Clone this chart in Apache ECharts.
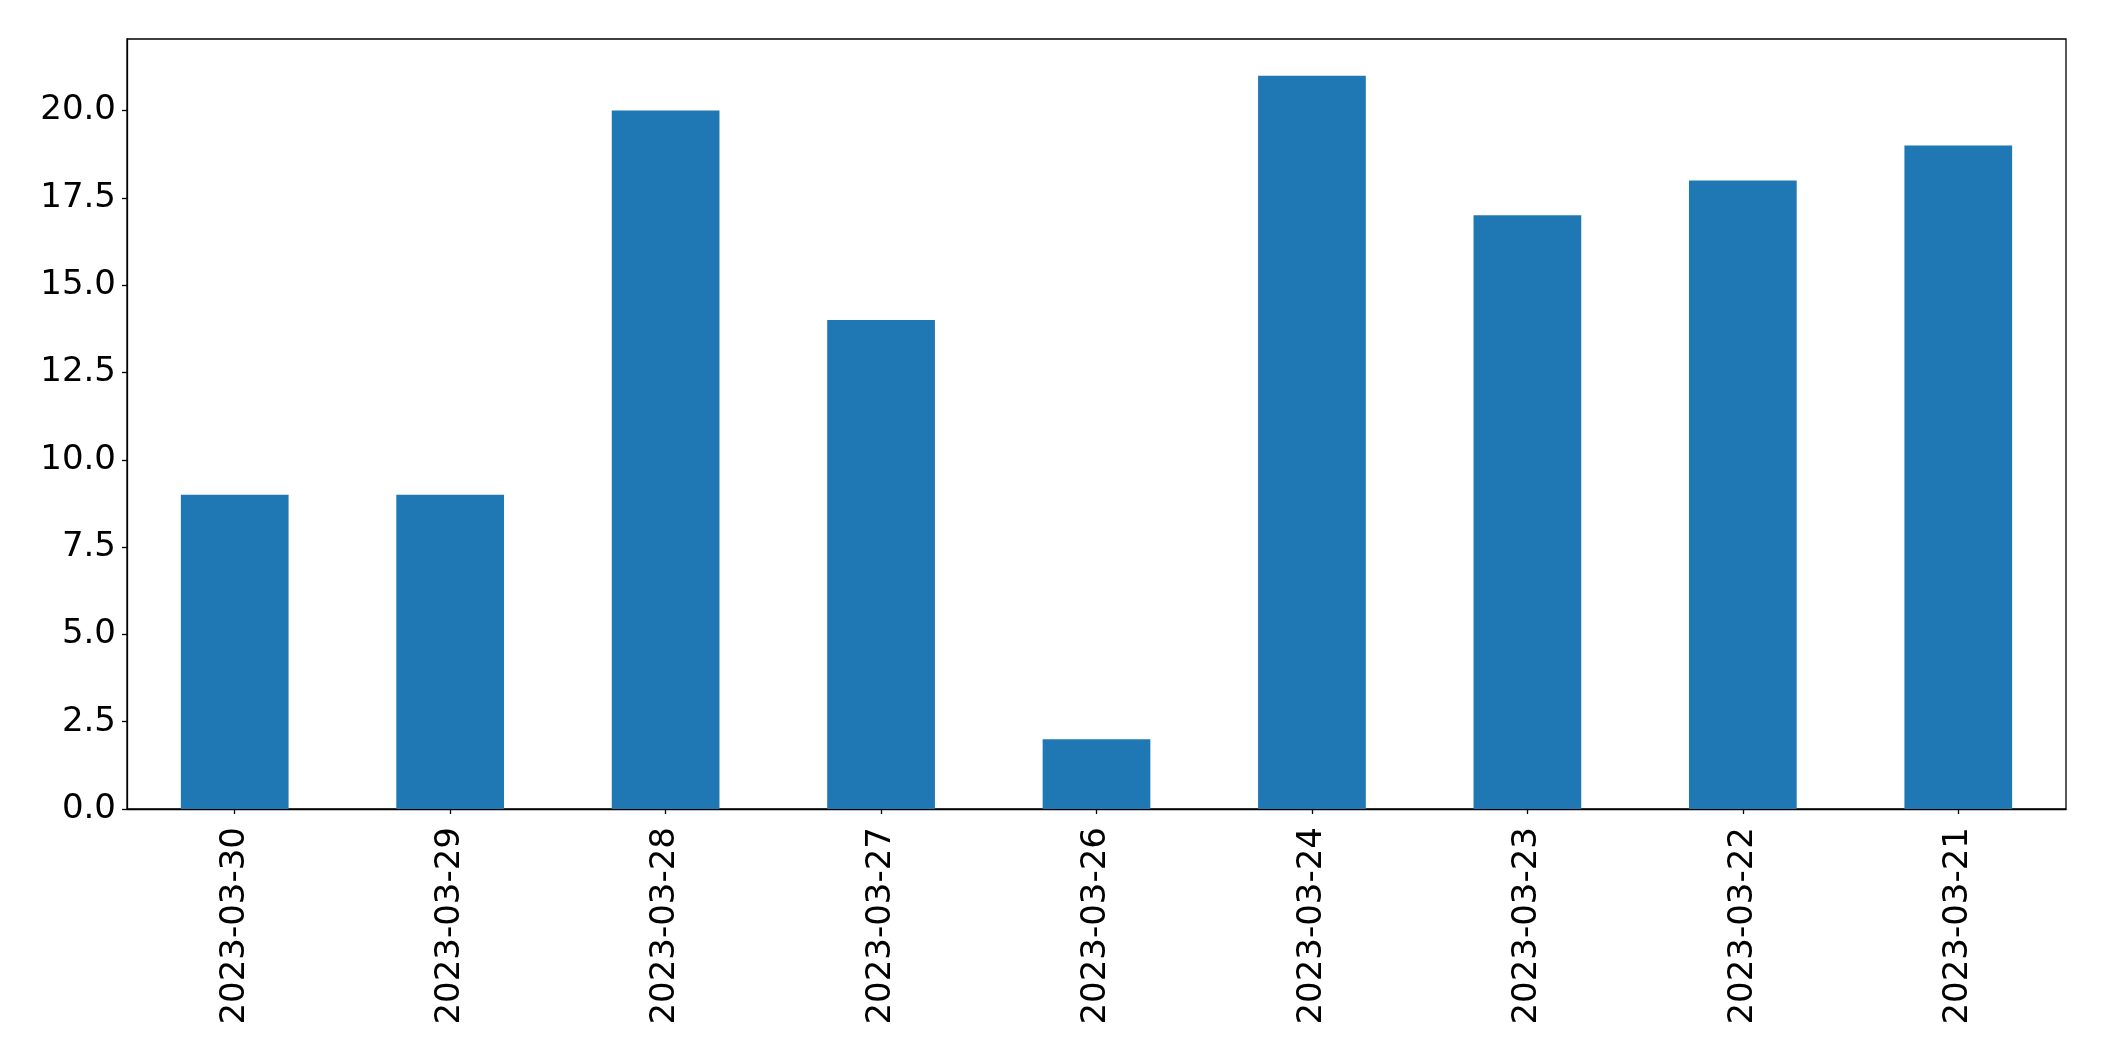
<!DOCTYPE html>
<html>
<head>
<meta charset="utf-8">
<script src="https://cdn.jsdelivr.net/npm/echarts@6/dist/echarts.min.js"></script>
<style>
html,body{margin:0;padding:0;background:#fff;}
#chart{width:2104px;height:1061px;}
</style>
</head>
<body>
<div id="chart"></div>
<script>
const categories = ['2023-03-30','2023-03-29','2023-03-28','2023-03-27','2023-03-26','2023-03-24','2023-03-23','2023-03-22','2023-03-21'];
const values = [9, 9, 20, 14, 2, 21, 17, 18, 19];
const yMax = 22.05;
const yInterval = 2.5;

const chart = echarts.init(document.getElementById('chart'), null, {renderer: 'canvas'});
const font = 'DejaVu Sans';
chart.setOption({
  animation: false,
  backgroundColor: '#ffffff',
  grid: {
    left: 127, top: 39, right: 38, bottom: 252,
    containLabel: false,
    show: true, borderColor: '#000000', borderWidth: 1.3, backgroundColor: 'transparent'
  },
  xAxis: {
    type: 'category',
    data: categories,
    boundaryGap: true,
    axisLine: {show: true, lineStyle: {color: '#000', width: 1.3}},
    axisTick: {show: true, alignWithLabel: true, length: 5, lineStyle: {color: '#000', width: 1.3}},
    axisLabel: {rotate: 90, fontFamily: font, fontSize: 34, color: '#000', margin: 18, interval: 0},
    splitLine: {show: false}
  },
  yAxis: {
    type: 'value',
    min: 0, max: yMax, interval: yInterval,
    axisLine: {show: true, lineStyle: {color: '#000', width: 1.3}},
    axisTick: {show: true, length: 5, lineStyle: {color: '#000', width: 1.3}},
    axisLabel: {
      fontFamily: font, fontSize: 34, color: '#000', margin: 11,
      showMaxLabel: false,
      formatter: v => (Math.abs(v / yInterval - Math.round(v / yInterval)) < 1e-6 ? v.toFixed(1) : '')
    },
    splitLine: {show: false}
  },
  series: [{
    type: 'bar',
    data: values,
    barWidth: '50%',
    itemStyle: {color: '#1f77b4'}
  }]
});
</script>
</body>
</html>
